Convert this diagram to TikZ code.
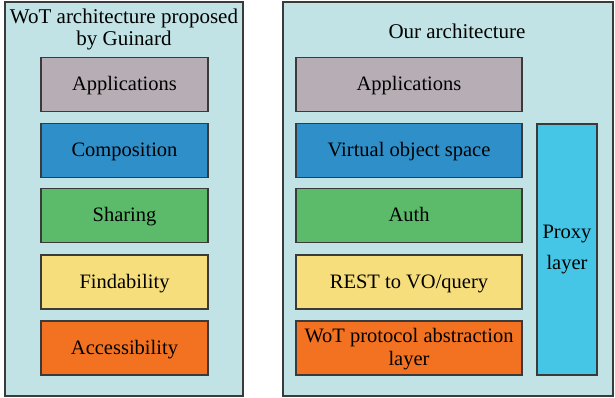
\documentclass[tikz,border=0pt]{standalone}
\usepackage{fontspec}
\setmainfont{Liberation Serif}
\definecolor{panelbg}{HTML}{C1E3E5}
\definecolor{edge}{HTML}{3A3A3A}
\definecolor{appgray}{HTML}{B7AEB5}
\definecolor{layblue}{HTML}{2F8FC9}
\definecolor{laygreen}{HTML}{5CBB6B}
\definecolor{layyellow}{HTML}{F6DE7C}
\definecolor{layorange}{HTML}{F37221}
\definecolor{proxyblue}{HTML}{45C6E6}
\tikzset{
  panel/.style={draw=edge, line width=1.1pt, fill=panelbg},
  layer/.style={draw=edge, line width=1.1pt, minimum height=54pt, inner sep=1pt,
    align=center, font=\fontsize{20.5}{23}\selectfont, text=black},
  stacked/.style={layer, text height=15pt, text depth=2pt},
  lefts/.style={stacked, minimum width=167pt},
  rights/.style={stacked, minimum width=226pt},
  heading/.style={align=center, font=\fontsize{21}{22}\selectfont}
}
\begin{document}
\begin{tikzpicture}[x=1pt,y=1pt]
\useasboundingbox (0,0) rectangle (615,398);
% the two panels
\draw[panel] (5,2) rectangle (243,396);
\draw[panel] (283,2) rectangle (613,396);
% headings
\node[heading] (lt) at (124,369) {WoT architecture proposed\\by Guinard};
\node[heading] (rt) at (457,367) {Our architecture};
% left stack
\node[lefts, fill=appgray]   (la) at (124.5,313.5) {Applications};
\node[lefts, fill=layblue]   (lb) at (124.5,247.5) {Composition};
\node[lefts, fill=laygreen]  (lc) at (124.5,182.5) {Sharing};
\node[lefts, fill=layyellow] (ld) at (124.5,116) {Findability};
\node[lefts, fill=layorange] (le) at (124.5,50) {Accessibility};
% right stack
\node[rights, fill=appgray]   (ra) at (409,313.5) {Applications};
\node[rights, fill=layblue]   (rb) at (409,247.5) {Virtual object space};
\node[rights, fill=laygreen]  (rc) at (409,182.5) {Auth};
\node[rights, fill=layyellow] (rd) at (409,116) {REST to VO/query};
\node[rights, fill=layorange, text height=38pt] (re) at (409,50) {WoT protocol abstraction\\layer};
% proxy column
\node[layer, fill=proxyblue, minimum width=60pt, minimum height=251pt] (px) at (567,148.5) {Proxy\\[8pt]layer};
\end{tikzpicture}
\end{document}
